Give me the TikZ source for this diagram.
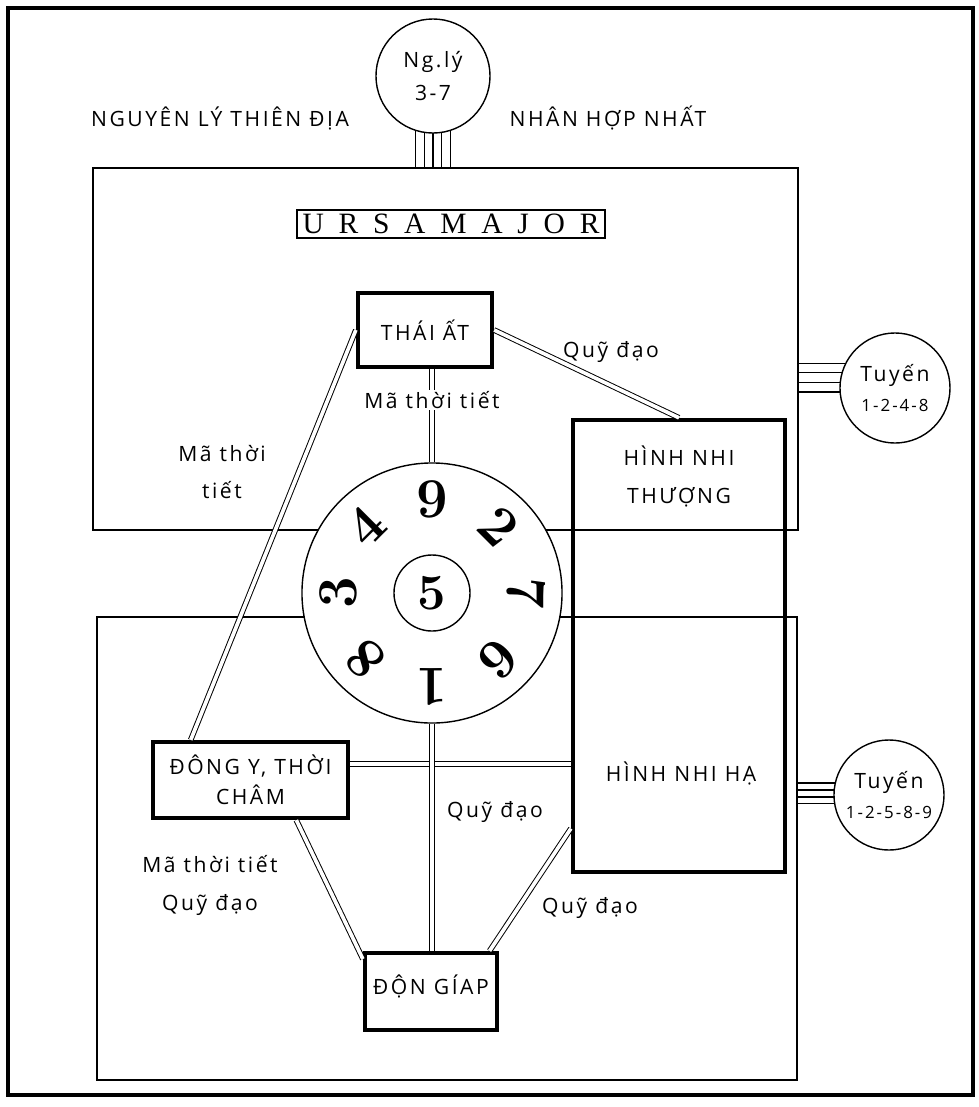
\documentclass[tikz,border=0pt]{standalone}
\usepackage{fontspec}
\usepackage{tikz}
\usetikzlibrary{calc,backgrounds}
\newfontfamily\labelfont{Open Sans}[LetterSpace=12]
\newfontfamily\ursafont{Liberation Serif}

\begin{document}
\begin{tikzpicture}[x=0.025cm, y=-0.025cm,
    lbl/.style={font=\labelfont\fontsize{15}{27}\selectfont, inner sep=1pt},
    region/.style={draw, line width=1.4pt, inner sep=0pt},
    heavybox/.style={draw, line width=3pt, inner sep=2pt},
    ring/.style={circle, draw, line width=1pt, fill=white, inner sep=0pt},
    link/.style={draw, double=white, double distance=2.6pt, line width=0.7pt},
    digit/.style={font=\bfseries\fontsize{40}{40}\selectfont, inner sep=0pt}]
  \useasboundingbox (0,0) rectangle (979,1107);
  \draw[line width=3pt] (8,8) rectangle (973,1095);

  % the two halves
  \node[region, minimum width=17.625cm, minimum height=9.05cm] (upper) at (445.5,349) {};
  \node[region, minimum width=17.5cm, minimum height=11.575cm] (lower) at (447,848.5) {};

  \node[lbl] (nguyen) at (220,118) {NGUYÊN LÝ THIÊN ĐỊA};
  \node[lbl] (nhan) at (608,118) {NHÂN HỢP NHẤT};
  \node[ring, minimum size=2.85cm, lbl, align=center] (ngly) at (433,76) {Ng.lý\\[-4pt]3-7};
  \node[ring, minimum size=2.75cm, lbl, align=center] (tuyenA) at (895,388) {Tuyến\\[-6pt]{\fontsize{12}{14}\selectfont 1-2-4-8}};
  \node[ring, minimum size=2.75cm, lbl, align=center] (tuyenB) at (889,795) {Tuyến\\[-6pt]{\fontsize{12}{14}\selectfont 1-2-5-8-9}};

  \node[draw, line width=1pt, inner xsep=4pt, inner ysep=3pt, font=\ursafont\fontsize{21}{21}\selectfont] (ursa) at (451,224) {\spaceskip=0.5em U R S A M A J O R};

  % wheel of numbers
  \node[ring, minimum size=6.5cm] (wheel) at (432,593) {};
  \node[ring, minimum size=1.9cm, digit, font=\bfseries\fontsize{36}{36}\selectfont] (hub) at (wheel.center) {5};
  \foreach \d/\a in {9/90, 2/45, 7/0, 6/-45, 1/-90, 8/-135, 3/180, 4/135}
    \node[digit, rotate=\a-90] (d\d) at ($(wheel.center)+(\a:2.35cm)$) {\d};

  \node[heavybox, minimum width=3.35cm, minimum height=1.85cm, lbl] (thaiat) at (425,330) {THÁI ẤT};
  \node[heavybox, minimum width=4.875cm, minimum height=1.9cm, lbl, align=center] (dongy) at (250.5,780) {ĐÔNG Y, THỜI\\[-6pt]CHÂM};
  \node[heavybox, minimum width=3.3cm, minimum height=1.925cm, lbl, text depth=10pt] (dongiap) at (431,991.5) {ĐỘN GÍAP};
  \node[heavybox, minimum width=5.3cm, minimum height=11.3cm] (hinh) at (679,646) {};
  \node[lbl, align=center] (thuong) at (679,476) {HÌNH NHI\\THƯỢNG};
  \node[lbl] (ha) at (681,773) {HÌNH NHI HẠ};

  % links
  \draw[link] (thaiat.south -| wheel.north) -- (wheel.north);
  \draw[link] (thaiat.east) -- (hinh.north);
  \draw[link] (thaiat.west) -- ($(dongy.north west)!0.2!(dongy.north east)$);
  \coordinate (hy) at ($(dongy.north east)!0.3!(dongy.south east)$);
  \draw[link] (hy) -- (hy -| hinh.west);
  \draw[link] (wheel.south) -- (wheel.south |- dongiap.north);
  \draw[link] ($(dongy.south west)!0.73!(dongy.south east)$) -- ($(dongiap.north west)!0.1!(dongiap.south west)$);
  \draw[link] ($(hinh.north west)!0.9!(hinh.south west)$) -- ($(dongiap.north west)!0.93!(dongiap.north east)$);

  \node[lbl, fill=white] (mtop) at (432,400) {Mã thời tiết};
  \node[lbl] (qtop) at (611,352) {Quỹ đạo};
  \node[lbl, align=center] (mleft) at (222,472) {Mã thời\\tiết};
  \node[lbl] (qmid) at (495,812) {Quỹ đạo};
  \node[lbl, align=center] (mlow) at (210,885) {Mã thời tiết\\Quỹ đạo};
  \node[lbl] (qright) at (590,908) {Quỹ đạo};

  % stems
  \coordinate (sN) at (ngly.center |- upper.north);
  \coordinate (sA) at (upper.east |- tuyenA.center);
  \coordinate (sB) at (lower.east |- tuyenB.center);
  \begin{scope}[on background layer]
    \foreach \dx in {-0.44,-0.22,0,0.22,0.44}
      \draw[line width=0.8pt] ([xshift=\dx cm]ngly.center) -- ([xshift=\dx cm]sN);
    \foreach \dy in {0.62,0.38,0.14,-0.1}
      \draw[line width=0.8pt] ([yshift=\dy cm]sA) -- ([yshift=\dy cm]tuyenA.center);
    \foreach \dy in {0.3,0.125,-0.05,-0.22}
      \draw[line width=0.8pt] ([yshift=\dy cm]sB) -- ([yshift=\dy cm]tuyenB.center);
  \end{scope}
\end{tikzpicture}
\end{document}
